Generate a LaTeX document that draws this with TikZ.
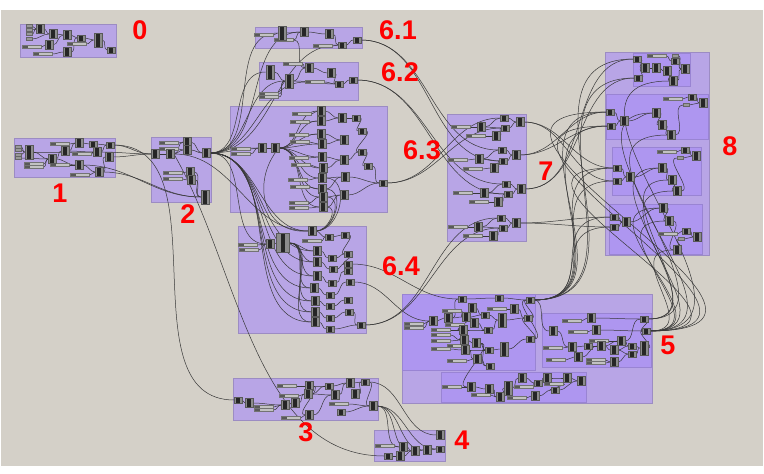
\documentclass[tikz,border=0pt]{standalone}
\usepackage{fontspec}
\setmainfont{Liberation Sans}
\usetikzlibrary{backgrounds}
\definecolor{fondo}{HTML}{D4D0C8}
\definecolor{grupo}{HTML}{B8A5E6}
\definecolor{grupob}{HTML}{AE96F0}
\tikzset{
	comp/.style={rectangle,draw=black!65,line width=.3pt,fill=black!45,minimum width=7.5pt,minimum height=9pt,inner sep=0pt,
		path picture={\fill[black!85] ([xshift=-1.8pt]path picture bounding box.south) rectangle ([xshift=1.8pt]path picture bounding box.north);}},
	compc/.style={comp,minimum height=6.5pt},
	compt/.style={comp,minimum width=8.5pt,minimum height=14pt},
	compb/.style={comp,minimum width=13pt,minimum height=19pt},
	deslizador/.style={rectangle,draw=black!55,line width=.3pt,fill=black!24,minimum width=19pt,minimum height=3pt,inner sep=0pt,
		path picture={\fill[black!65] (path picture bounding box.south west) rectangle ([xshift=5.5pt]path picture bounding box.north west);}},
	param/.style={rectangle,draw=black!60,line width=.3pt,fill=black!40,minimum width=6pt,minimum height=3pt,inner sep=0pt},
	grp/.style={draw=grupo!85!black,line width=.4pt,fill=grupo},
	grpb/.style={draw=grupob!88!black,line width=.4pt,fill=grupob},
	wire/.style={draw=black!78,line width=.5pt},
	etq/.style={text=red,font=\fontsize{27}{27}\selectfont\bfseries,inner sep=0pt}
}
\begin{document}
\begin{tikzpicture}[x=1pt,y=-1pt]
	\useasboundingbox (0,0) rectangle (764,474);
	
	% Parametros
	\foreach \n/\x/\y in {a1/29/26,a2/29/30,a3/29/34,a4/29/39,b1/18/147,b2/18/150,b3/18/155,b4/18/158,m9/675/56,o9/686/105,q9/680/158,r8/681/239}
		\node[param] (\n) at (\x,\y) {};
	
	% Deslizadores
	\foreach \n/\x/\y in {a13/32/47,a14/43/54,a15/77/44,b15/60/144,b16/82/154,b17/60/165,b18/80/175,b19/34/164,b20/34/167,
		c1/169/143,c2/169/149,c3/173/173,c4/173/179,d1/264/35,d2/284/40,d3/323/46,e7/293/64,e8/315/82,e9/269/94,e10/269/97,
		f1/241/149,f2/241/154,f15/302/114,f16/300/122,f17/299/135,f18/300/142,f19/299/158,f20/301/165,f21/298/180,f22/300/187,f23/299/203,f24/299/208,
		k1/248/245,k2/249/250,k3/312/241,h1/461/127,h2/476/136,h3/458/160,h4/473/169,h5/463/193,h6/479/202,h7/458/227,h8/473/236,
		m10/657/56,o10/673/99,q10/667/152,r10/668/234,s1/414/324,s2/414/328,s8/452/311,s12/497/309,s19/455/325,s20/441/330,s21/441/335,s22/441/341,s23/441/349,s26/457/346,s32/457/361,
		t2/572/321,t4/578/332,t8/553/348,t11/599/341,t19/556/360,t20/596/360,t21/596/363,u1/452/387,u4/481/395,u10/554/384,u14/524/387,u15/517/398,
		v3/264/407,v4/264/410,v7/287/386,v9/289/396,v11/291/418,v17/339/404,w1/385/446}
		\node[deslizador] (\n) at (\x,\y) {};
	
	% Componentes
	\foreach \n/\x/\y in {a5/40/29,a6/53/34,a7/67/35,a9/49/45,a10/67/52,b6/52/159,b7/65/151,b8/79/143,b11/97/152,b12/109/157,b13/79/165,b14/99/172,
		c5/187/142,c6/187/150,c7/155/154,c8/170/154,c9/206/153,c10/190/172,c11/191/180,d5/304/32,d6/329/34,e3/309/68,e4/331/73,
		f3/262/148,f4/275/148,f5/321/111,f6/321/121,f7/321/134,f8/322/144,f9/322/157,f10/323/168,f11/322/178,f12/322/189,f13/323/197,f14/323/207,
		f25/342/118,f28/344/140,f29/344/160,f32/345/177,f33/344/195,k4/270/244,k6/312/231,k9/317/251,k10/317/262,k11/317/276,k12/314/288,k13/315/301,k14/315/312,k15/315/322,
		h9/481/127,h10/496/136,h13/520/122,h14/479/159,h15/494/168,h18/516/155,h19/484/193,h20/498/202,h23/521/189,h24/478/227,h25/493/236,h28/516/223,
		m2/645/68,m3/656/68,m4/667/71,m6/673/81,m7/685/69,o3/624/121,o4/656/113,o5/662/125,o6/671/135,o8/703/103,q3/630/177,q4/662/168,q5/672/180,q6/677/191,q8/696/156,
		r3/626/222,r4/663/208,r5/669/221,r7/697/237,r9/677/250,s4/433/321,s5/448/318,s9/472/308,s10/466/317,s13/514/309,s16/474/323,s18/463/330,s24/464/340,s25/476/343,s27/465/350,s31/477/359,
		t1/553/331,t3/591/318,t5/596/330,t9/572/347,t12/601/346,t13/621/341,t14/614/350,t18/578/357,t22/614/362,u2/471/387,u3/489/389,u5/500/397,u7/522/378,u9/547/378,u11/567/378,u12/581/381,u16/535/396,
		v2/249/403,v5/285/405,v6/295/403,v8/309/386,v10/308/394,v12/309/415,v14/335/395,v15/350/383,v16/355/394,v20/373/406,w2/403/447,w4/400/456,w5/415/451,w6/427/450,w8/440/435}
		\node[comp] (\n) at (\x,\y) {};
	
	% Componentes chicos
	\foreach \n/\x/\y in {a8/81/38,a12/111/50,b9/93/144,b10/110/145,d7/342/45,d8/357/40,e5/339/84,e6/353/80,f26/356/118,f27/362/131,f30/362/152,f31/368/166,f34/383/183,
		k7/329/237,k8/345/235,k16/332/258,k17/333/269,k18/332/283,k19/330/295,k20/330/306,k21/330/318,k22/330/329,k23/348/254,k24/348/264,k25/348/271,k26/350/282,k27/348/300,k28/349/312,k29/361/325,
		h11/504/118,h12/505/128,h16/502/150,h17/503/161,h21/506/184,h22/508/194,h26/501/218,h27/503/228,m1/637/59,m5/638/78,m8/675/61,o1/610/112,o2/611/126,o7/692/97,q1/617/168,q2/617/181,q7/685/150,r1/614/217,r2/614/227,r6/686/231,
		s3/530/300,s6/462/299,s7/499/298,s11/485/315,s15/528/318,s17/488/330,s28/489/350,s30/530/339,s33/490/366,t6/644/319,t7/646/331,t10/588/346,t15/632/346,t17/632/354,u8/538/383,u13/555/390,
		v1/238/400,v13/329/386,v18/341/412,v19/365/382,w3/388/456,w7/440/449}
		\node[compc] (\n) at (\x,\y) {};
	
	% Componentes altos
	\foreach \n/\x/\y in {a11/98/40,b5/29/152,c12/205/197,d4/282/33,e1/270/72,e2/289/81,s14/502/320,s29/504/349,t16/644/348,u6/508/388}
		\node[compt] (\n) at (\x,\y) {};
	\node[compb] (k5) at (283,243) {};
	
	% Rotulos
	\node[etq] (l0) at (140,30) {0};
	\node[etq] (l1) at (60,193) {1};
	\node[etq] (l2) at (188,214) {2};
	\node[etq] (l3) at (306,432) {3};
	\node[etq] (l4) at (462,440) {4};
	\node[etq] (l5) at (668,345) {5};
	\node[etq] (l61) at (398,30) {6.1};
	\node[etq] (l62) at (400,72) {6.2};
	\node[etq] (l63) at (422,150) {6.3};
	\node[etq] (l64) at (401,266) {6.4};
	\node[etq] (l7) at (546,171) {7};
	\node[etq] (l8) at (730,146) {8};
	
	\begin{scope}[on background layer]
		% Fondo
		\fill[white] (0,0) rectangle (764,474);
		\fill[fondo] (1,10) rectangle (763,466);
		
		% Grupos
		\draw[grp] (20,24) rectangle (116,57);
		\draw[grp] (14,138) rectangle (115,177);
		\draw[grp] (151,137) rectangle (211,202);
		\draw[grp] (255,27) rectangle (362,48);
		\draw[grp] (259,62) rectangle (358,100);
		\draw[grp] (230,106) rectangle (387,212);
		\draw[grp] (238,226) rectangle (366,333);
		\draw[grp] (447,114) rectangle (526,241);
		\draw[grp] (605,52) rectangle (709,255);
		\draw[grp] (402,294) rectangle (652,403);
		\draw[grp] (233,378) rectangle (378,420);
		\draw[grp] (374,430) rectangle (445,461);
		\draw[grpb] (633,53) rectangle (690,86);
		\draw[grpb] (606,94) rectangle (708,139);
		\draw[grpb] (612,147) rectangle (701,195);
		\draw[grpb] (609,204) rectangle (702,254);
		\draw[grpb] (402,294) rectangle (535,370);
		\draw[grpb] (542,313) rectangle (651,367);
		\draw[grpb] (441,372) rectangle (586,402);
		
		% Cables
		\foreach \p/\q in {a1/a5,a2/a5,a3/a5,a4/a6,a5/a6,a6/a7,a7/a8,a8/a11,a15/a11,a11/a12,a13/a9,a14/a10,a10/a8,a9/a7,
			b1/b5,b2/b5,b3/b5,b4/b6,b5/b6,b5/b11,b6/b7,b6/b13,b15/b8,b8/b9,b9/b10,b7/b11,b16/b11,b17/b13,b18/b14,b19/b6,b20/b6,b11/b10,b13/b14,b7/b8,b14/b12,
			c1/c5,c2/c6,c7/c8,c8/c6,c8/c5,c5/c9,c6/c9,c3/c10,c4/c11,c10/c12,c11/c12,b10/c7,b12/c7,b11/c7,b14/c12,b13/c12,
			d1/d4,d2/d5,d4/d5,d5/d6,d6/d7,d3/d7,d7/d8,c9/d4,c9/d5,c9/d7,
			c9/e1,c9/e2,e1/e2,e2/e3,e7/e3,e3/e4,e4/e5,e8/e5,e5/e6,e9/e2,e10/e2,d2/e3,e2/e5,c9/e8,
			c9/f3,f1/f3,f2/f3,f3/f4,f4/f5,f4/f6,f4/f7,f4/f8,f4/f9,f4/f10,f4/f11,f4/f12,f4/f13,f4/f14,
			f15/f5,f16/f6,f17/f7,f18/f8,f19/f9,f20/f10,f21/f11,f22/f12,f23/f13,f24/f14,
			f5/f25,f6/f25,f25/f26,f26/f27,f7/f28,f8/f28,f27/f30,f9/f29,f10/f29,f29/f30,f30/f31,f11/f32,f12/f32,f13/f33,f14/f33,f31/f34,f32/f34,f33/f34,
			k1/k4,k2/k4,k4/k5,k5/k9,k5/k10,k5/k11,k5/k12,k5/k13,k5/k14,k5/k15,k6/k7,k7/k8,k3/k7,
			k9/k16,k10/k17,k11/k18,k12/k19,k13/k20,k14/k21,k15/k22,k16/k23,k17/k24,k18/k25,k19/k26,k20/k27,k21/k28,k22/k29,k28/k29,k23/k24,k8/k23,
			c9/k4,c9/k9,c9/k10,c9/k11,c9/k12,c9/k13,c9/k14,c9/k15,c8/k6,c9/k6,
			h1/h9,h2/h10,h9/h11,h9/h12,h10/h12,h11/h13,h12/h13,h3/h14,h4/h15,h14/h16,h14/h17,h15/h17,h16/h18,h17/h18,
			h5/h19,h6/h20,h19/h21,h19/h22,h20/h22,h21/h23,h22/h23,h7/h24,h8/h25,h24/h26,h24/h27,h25/h27,h26/h28,h27/h28,
			f34/h11,f34/h12,d8/h16,d8/h17,e6/h21,e6/h22,k29/h26,k29/h27,
			m1/m2,m5/m2,m2/m3,m3/m4,m4/m6,m6/m7,m8/m7,m9/m7,m10/m8,
			o1/o3,o2/o3,o3/o4,o4/o5,o5/o6,o10/o7,o7/o8,o9/o8,o6/o9,
			q1/q3,q2/q3,q3/q4,q4/q5,q5/q6,q10/q7,q7/q8,q9/q8,q6/q9,
			r1/r3,r2/r3,r3/r4,r4/r5,r5/r9,r10/r6,r6/r7,r8/r7,r9/r8,
			h13/q1,h13/q2,h18/o1,h18/o2,h23/m1,h23/m5,h28/r1,h28/r2,
			s1/s4,s2/s4,s4/s5,s5/s6,s6/s7,s7/s3,s8/s10,s5/s10,s10/s11,s9/s11,s12/s13,s13/s15,s14/s15,s15/s3,s11/s14,s16/s17,s17/s14,s18/s17,s19/s18,s20/s18,s21/s24,s22/s24,s23/s27,s24/s25,s25/s28,s26/s27,s27/s28,s28/s29,s29/s30,s30/s15,s30/s3,s31/s33,s32/s31,s25/s33,s27/s31,s10/s18,s18/s24,
			k24/s6,k26/s4,s3/t1,t1/t9,t2/t3,t3/t6,t4/t5,t5/t7,t8/t9,t9/t10,t10/t12,t11/t13,t12/t13,t12/t14,t13/t15,t14/t15,t15/t16,t17/t16,t14/t17,t18/t12,t19/t18,t20/t22,t21/t22,t22/t17,t16/t7,t6/t7,t13/t6,
			u1/u2,u2/u3,u4/u5,u3/u5,u5/u6,u6/u7,u7/u8,u8/u9,u9/u11,u11/u12,u10/u13,u13/u12,u14/u8,u15/u16,u16/u13,s25/u2,
			v1/v2,v2/v5,v3/v5,v4/v5,v5/v6,v6/v10,v7/v8,v9/v10,v8/v13,v10/v13,v10/v14,v11/v12,v12/v14,v13/v15,v14/v15,v15/v19,v17/v20,v18/v20,v16/v19,v19/v20,v8/v12,
			b10/v1,w1/w2,w3/w4,w2/w5,w4/w5,w5/w6,w6/w7,v19/w8,v20/w2,v20/w5,v20/w6,v20/w7}
			\draw[wire] (\p.east) to[out=0,in=180] (\q.west);
		
		% Cables largos
		\foreach \p/\q/\l in {s3/m1/1.3,s3/m5/1.3,s3/o1/1.4,s3/o2/1.4,s3/q1/1.5,s3/q2/1.5,s3/r1/1.6,s3/r2/1.6,
			t7/m6/1.5,t7/o6/1.6,t7/q6/1.7,t7/r9/1.7,t7/r4/1.8,t7/r5/1.8,t7/o1/2.4,t7/o2/2.3,t7/q1/2.4,t6/o4/1.3,t6/q4/1.4,t6/q5/1.4}
			\draw[wire] (\p.east) to[out=0,in=180,looseness=\l] (\q.west);
		\draw[wire] (c8.east) to[out=-60,in=180,looseness=.9] (w3.west);
		\draw[wire] (f4.east) to[out=-130,in=185,looseness=1.3] (k6.west);
		
		% Cables que vuelven
		\foreach \p/\q in {k6/f11,k6/f12,k6/f13,k6/f14}
			\draw[wire] (\p.east) to[out=0,in=0,looseness=1.2] (\q.east);
	\end{scope}
\end{tikzpicture}
\end{document}
